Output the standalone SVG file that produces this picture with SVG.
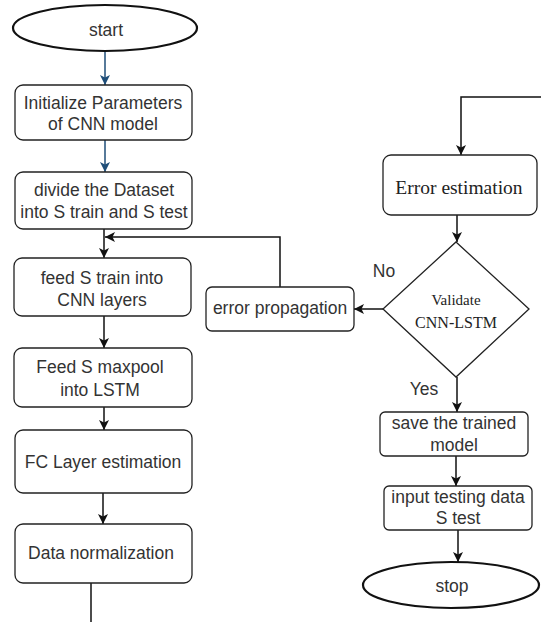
<svg xmlns="http://www.w3.org/2000/svg" width="541" height="626" viewBox="0 0 541 626">
<defs>
<style>
.box{fill:#fff;stroke:#222;stroke-width:1.3}
.term{fill:#fff;stroke:#111;stroke-width:2.2}
.t{font-family:"Liberation Sans",Arial,sans-serif;font-size:17.5px;fill:#333;text-anchor:middle;dominant-baseline:central}
.s{font-family:"Liberation Serif","Times New Roman",serif;fill:#222;text-anchor:middle;dominant-baseline:central}
.c{fill:none;stroke:#111;stroke-width:1.5}
.cb{fill:none;stroke:#1f4e79;stroke-width:1.5}
</style>
<marker id="a" viewBox="0 0 10 10" refX="10" refY="5" markerWidth="10" markerHeight="10" markerUnits="userSpaceOnUse" orient="auto">
<path d="M0,0 L10,5 L0,10 L2.5,5 z" fill="#111"/>
</marker>
<marker id="ab" viewBox="0 0 10 10" refX="10" refY="5" markerWidth="10" markerHeight="10" markerUnits="userSpaceOnUse" orient="auto">
<path d="M0,0 L10,5 L0,10 L2.5,5 z" fill="#1f4e79"/>
</marker>
</defs>
<rect width="541" height="626" fill="#fff"/>
<g id="connectors">
<path class="cb" d="M105,52 V85" marker-end="url(#ab)"/>
<path class="cb" d="M105,140 V172" marker-end="url(#ab)"/>
<path class="c" d="M104,229 V258" marker-end="url(#a)"/>
<path class="c" d="M280,287 V237 H105" marker-end="url(#a)"/>
<path class="c" d="M104,316 V348" marker-end="url(#a)"/>
<path class="c" d="M104,407 V430" marker-end="url(#a)"/>
<path class="c" d="M103,493 V524" marker-end="url(#a)"/>
<path class="c" d="M91,583 V622"/>
<path class="c" d="M541,97 H461 V155" marker-end="url(#a)"/>
<path class="c" d="M457,215 V242" marker-end="url(#a)"/>
<path class="c" d="M383,309 H354" marker-end="url(#a)"/>
<path class="c" d="M457,377 V412" marker-end="url(#a)"/>
<path class="c" d="M456,456 V486" marker-end="url(#a)"/>
<path class="c" d="M458,530 V562" marker-end="url(#a)"/>
<text class="t" x="384" y="271">No</text>
<text class="t" x="424" y="389">Yes</text>
</g>
<g id="start">
<ellipse class="term" cx="105" cy="28" rx="92" ry="23"/>
<text class="t" x="106" y="30">start</text>
</g>
<g id="init">
<rect class="box" x="15" y="85" width="177" height="55" rx="8"/>
<text class="t" x="103" y="103">Initialize Parameters</text>
<text class="t" x="103" y="124">of CNN model</text>
</g>
<g id="divide">
<rect class="box" x="15" y="172" width="177" height="57" rx="8"/>
<text class="t" x="104" y="190">divide the Dataset</text>
<text class="t" x="104" y="212">into S train and S test</text>
</g>
<g id="feed">
<rect class="box" x="14" y="258" width="177" height="58" rx="8"/>
<text class="t" x="102" y="278">feed S train into</text>
<text class="t" x="102" y="300">CNN layers</text>
</g>
<g id="maxpool">
<rect class="box" x="14" y="348" width="178" height="59" rx="8"/>
<text class="t" x="100" y="367">Feed S maxpool</text>
<text class="t" x="100" y="390">into LSTM</text>
</g>
<g id="fc">
<rect class="box" x="15" y="430" width="177" height="63" rx="8"/>
<text class="t" x="103" y="462">FC Layer estimation</text>
</g>
<g id="norm">
<rect class="box" x="15" y="524" width="177" height="59" rx="8"/>
<text class="t" x="101" y="553">Data normalization</text>
</g>
<g id="errprop">
<rect class="box" x="206" y="287" width="148" height="44" rx="6"/>
<text class="t" x="280" y="308">error propagation</text>
</g>
<g id="errest">
<rect class="box" x="383" y="155" width="154" height="60" rx="8"/>
<text class="s" x="459" y="187" font-size="19.5">Error estimation</text>
</g>
<g id="validate">
<polygon class="box" points="456,242 529,309 456,377 383,309"/>
<text class="s" x="456" y="300" font-size="15">Validate</text>
<text class="s" x="456" y="322" font-size="16">CNN-LSTM</text>
</g>
<g id="save">
<rect class="box" x="380" y="412" width="148" height="44" rx="5"/>
<text class="t" x="454" y="423">save the trained</text>
<text class="t" x="454" y="445">model</text>
</g>
<g id="input">
<rect class="box" x="384" y="486" width="148" height="44" rx="5"/>
<text class="t" x="458" y="497">input testing data</text>
<text class="t" x="458" y="518">S test</text>
</g>
<g id="stop">
<ellipse class="term" cx="451" cy="585" rx="88" ry="23"/>
<text class="t" x="452" y="586">stop</text>
</g>
</svg>
